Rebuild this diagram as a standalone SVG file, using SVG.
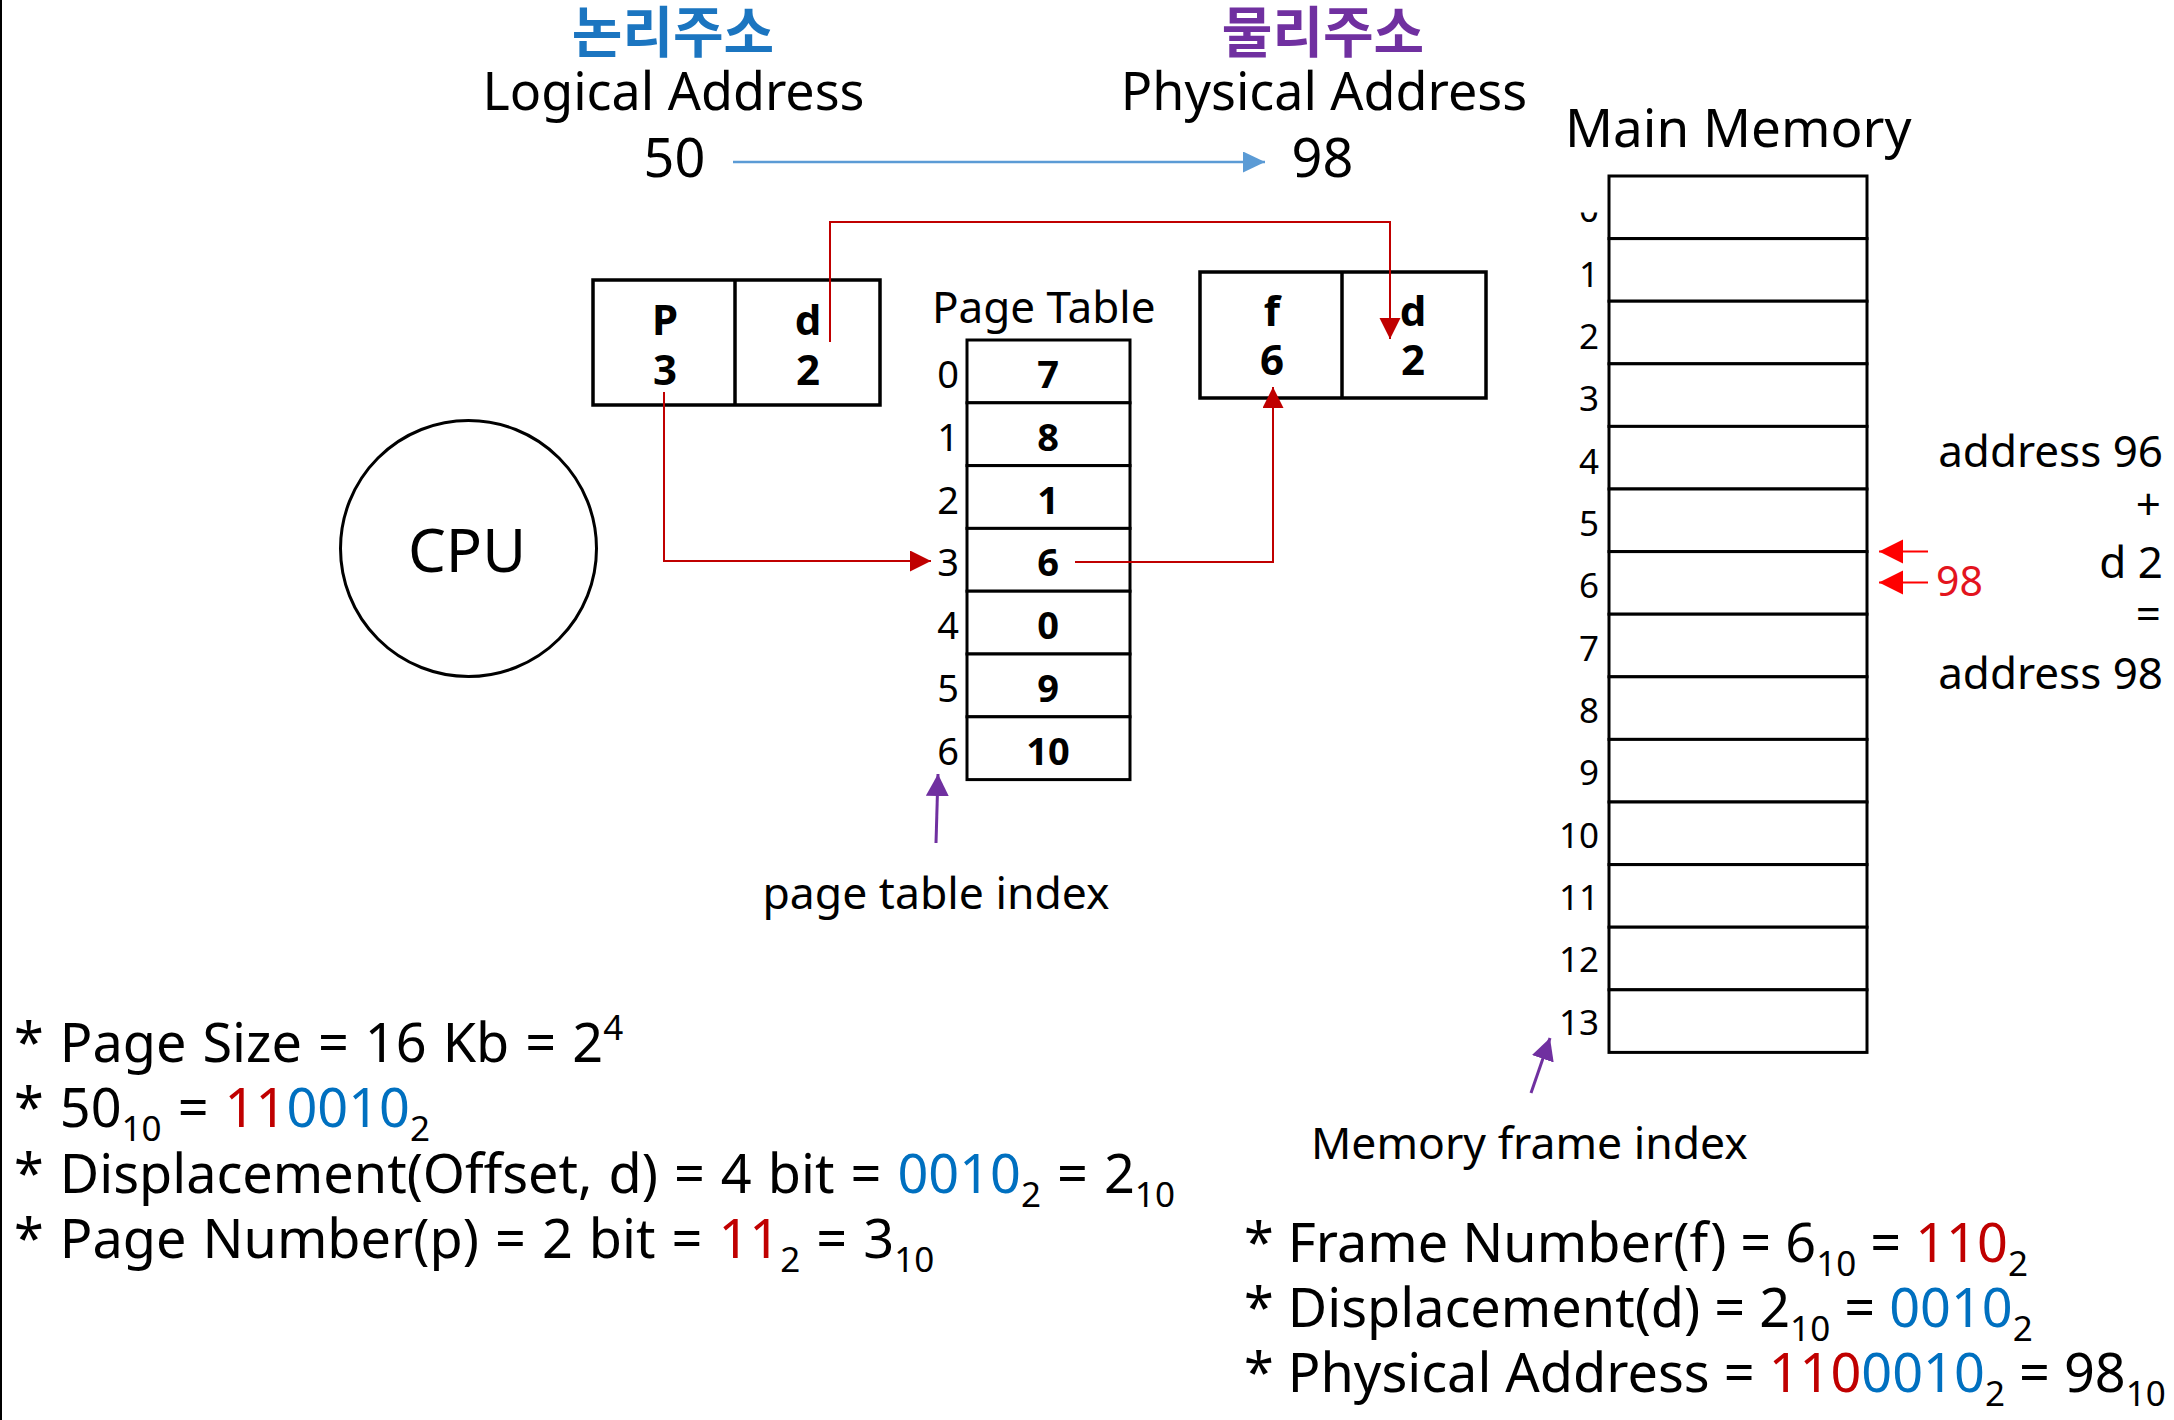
<svg xmlns="http://www.w3.org/2000/svg" width="2174" height="1420" viewBox="0 0 2174 1420">
<style>
text { font-family: "Noto Sans", "Open Sans", "Noto Sans CJK KR", sans-serif; fill: #000; }
.ko { font-family: "Noto Sans CJK KR", "Noto Sans", sans-serif; font-weight: 700; font-size: 55px; text-anchor: middle; }
.head { font-size: 52px; text-anchor: middle; }
.box { fill: #fff; stroke: #000; stroke-width: 3.5; }
.cell { fill: #fff; stroke: #000; stroke-width: 3; }
.bt { font-weight: 700; font-size: 42px; text-anchor: middle; }
.pv { font-weight: 700; font-size: 38px; text-anchor: middle; }
.pi { font-size: 38px; text-anchor: middle; }
.mi { font-size: 35px; text-anchor: end; }
.note { font-size: 54px; }
.lbl { font-size: 44.5px; }
.adr { font-size: 44px; text-anchor: end; }
.r { fill: #C00000; }
.bl { fill: #0070C0; }
.sub { font-size: 35px; }
.conn-red { fill: none; stroke: #C00000; stroke-width: 2; }
</style>
<defs>
<marker id="aRed" markerUnits="userSpaceOnUse" markerWidth="22" markerHeight="22" refX="21" refY="10.5" orient="auto"><path d="M0,0 L21,10.5 L0,21 z" fill="#C00000"/></marker>
<marker id="aBlue" markerUnits="userSpaceOnUse" markerWidth="23" markerHeight="22" refX="22" refY="10.5" orient="auto"><path d="M0,0 L22,10.5 L0,21 z" fill="#5B9BD5"/></marker>
<marker id="aPur" markerUnits="userSpaceOnUse" markerWidth="23" markerHeight="24" refX="22" refY="11.5" orient="auto"><path d="M0,0 L22,11.5 L0,23 z" fill="#7030A0"/></marker>
<marker id="aBr" markerUnits="userSpaceOnUse" markerWidth="25" markerHeight="25" refX="24" refY="12" orient="auto"><path d="M0,0 L24,12 L0,24 z" fill="#FF0000"/></marker>
<clipPath id="clip0"><rect x="1560" y="212.5" width="45" height="30"/></clipPath>
</defs>

<rect x="0" y="0" width="2174" height="1420" fill="#fff"/>
<line x1="1" y1="0" x2="1" y2="1420" stroke="#000" stroke-width="2"/>

<g id="titles">
<text class="ko" x="673" y="52" style="fill:#1B75C0">논리주소</text>
<text class="head" x="673.5" y="110">Logical Address</text>
<text class="head" x="674.5" y="177" style="font-size:54px">50</text>
<text class="ko" x="1323" y="52" style="fill:#7030A0">물리주소</text>
<text class="head" x="1324" y="110">Physical Address</text>
<text class="head" x="1322.5" y="177" style="font-size:54px">98</text>
</g>

<g id="cpu">
<circle cx="468.5" cy="548.5" r="128" fill="#fff" stroke="#000" stroke-width="3"/>
<text x="467" y="572" style="font-size:60px;text-anchor:middle">CPU</text>
</g>

<g id="logical-address-box">
<rect class="box" x="593" y="280" width="287" height="125"/>
<line x1="735" y1="280" x2="735" y2="405" stroke="#000" stroke-width="3.5"/>
<text class="bt" x="665" y="335">P</text>
<text class="bt" x="665" y="385">3</text>
<text class="bt" x="808" y="335">d</text>
<text class="bt" x="808" y="385">2</text>
</g>

<g id="page-table">
<text x="932" y="323" style="font-size:44px">Page Table</text>
<rect class="cell" x="967" y="340" width="163" height="62.8"/>
<rect class="cell" x="967" y="402.8" width="163" height="62.8"/>
<rect class="cell" x="967" y="465.6" width="163" height="62.8"/>
<rect class="cell" x="967" y="528.4" width="163" height="62.8"/>
<rect class="cell" x="967" y="591.2" width="163" height="62.8"/>
<rect class="cell" x="967" y="654" width="163" height="62.8"/>
<rect class="cell" x="967" y="716.8" width="163" height="62.8"/>
<text class="pi" x="948" y="388">0</text>
<text class="pi" x="948" y="450.8">1</text>
<text class="pi" x="948" y="513.6">2</text>
<text class="pi" x="948" y="576.4">3</text>
<text class="pi" x="948" y="639.2">4</text>
<text class="pi" x="948" y="702">5</text>
<text class="pi" x="948" y="764.8">6</text>
<text class="pv" x="1048" y="388">7</text>
<text class="pv" x="1048" y="450.8">8</text>
<text class="pv" x="1048" y="513.6">1</text>
<text class="pv" x="1048" y="576.4">6</text>
<text class="pv" x="1048" y="639.2">0</text>
<text class="pv" x="1048" y="702">9</text>
<text class="pv" x="1048" y="764.8">10</text>
<text class="lbl" x="936" y="909" style="text-anchor:middle">page table index</text>
</g>

<g id="physical-address-box">
<rect class="box" x="1200" y="272" width="286" height="126"/>
<line x1="1342" y1="272" x2="1342" y2="398" stroke="#000" stroke-width="3.5"/>
<text class="bt" x="1272" y="326">f</text>
<text class="bt" x="1272" y="375">6</text>
<text class="bt" x="1413" y="326">d</text>
<text class="bt" x="1413" y="375">2</text>
</g>

<g id="main-memory">
<text x="1565" y="147" style="font-size:53px">Main Memory</text>
<rect class="cell" x="1609" y="176" width="258" height="62.6"/>
<rect class="cell" x="1609" y="238.6" width="258" height="62.6"/>
<rect class="cell" x="1609" y="301.2" width="258" height="62.6"/>
<rect class="cell" x="1609" y="363.8" width="258" height="62.6"/>
<rect class="cell" x="1609" y="426.4" width="258" height="62.6"/>
<rect class="cell" x="1609" y="489" width="258" height="62.6"/>
<rect class="cell" x="1609" y="551.6" width="258" height="62.6"/>
<rect class="cell" x="1609" y="614.2" width="258" height="62.6"/>
<rect class="cell" x="1609" y="676.8" width="258" height="62.6"/>
<rect class="cell" x="1609" y="739.4" width="258" height="62.6"/>
<rect class="cell" x="1609" y="802" width="258" height="62.6"/>
<rect class="cell" x="1609" y="864.6" width="258" height="62.6"/>
<rect class="cell" x="1609" y="927.2" width="258" height="62.6"/>
<rect class="cell" x="1609" y="989.8" width="258" height="62.6"/>
<text class="mi" x="1599" y="222" clip-path="url(#clip0)">0</text>
<text class="mi" x="1599" y="286.7">1</text>
<text class="mi" x="1599" y="349">2</text>
<text class="mi" x="1599" y="411.4">3</text>
<text class="mi" x="1599" y="473.7">4</text>
<text class="mi" x="1599" y="536">5</text>
<text class="mi" x="1599" y="598.4">6</text>
<text class="mi" x="1599" y="660.7">7</text>
<text class="mi" x="1599" y="723">8</text>
<text class="mi" x="1599" y="785.3">9</text>
<text class="mi" x="1599" y="847.7">10</text>
<text class="mi" x="1599" y="910">11</text>
<text class="mi" x="1599" y="972.3">12</text>
<text class="mi" x="1599" y="1034.7">13</text>
<text class="lbl" x="1311" y="1159">Memory frame index</text>
</g>

<g id="address-calc">
<text x="1936" y="596" style="font-size:41px;fill:#E3141E">98</text>
<text class="adr" x="2163" y="467">address 96</text>
<text class="adr" x="2161" y="520">+</text>
<text class="adr" x="2163" y="578">d 2</text>
<text class="adr" x="2161" y="630">=</text>
<text class="adr" x="2163" y="689">address 98</text>
</g>

<g id="connectors">
<line x1="733" y1="162" x2="1265" y2="162" stroke="#5B9BD5" stroke-width="2.5" marker-end="url(#aBlue)"/>
<polyline class="conn-red" points="830,342 830,222 1390,222 1390,339" marker-end="url(#aRed)"/>
<polyline class="conn-red" points="664,392 664,561 931,561" marker-end="url(#aRed)"/>
<polyline class="conn-red" points="1075,562 1273,562 1273,387" marker-end="url(#aRed)"/>
<line x1="936" y1="843" x2="938" y2="774" stroke="#7030A0" stroke-width="3" marker-end="url(#aPur)"/>
<line x1="1531" y1="1093" x2="1550" y2="1038" stroke="#7030A0" stroke-width="3" marker-end="url(#aPur)"/>
<line x1="1928" y1="551.6" x2="1879" y2="551.6" stroke="#FF0000" stroke-width="2" marker-end="url(#aBr)"/>
<line x1="1928" y1="582.5" x2="1879" y2="582.5" stroke="#FF0000" stroke-width="2" marker-end="url(#aBr)"/>
</g>

<g id="notes-left" class="note" style="word-spacing:2px">
<text class="note" x="14" y="1062">* Page Size = 16 Kb = 2<tspan class="sub" dy="-22">4</tspan></text>
<text class="note" x="14" y="1127">* 50<tspan class="sub" dy="14">10</tspan><tspan dy="-14"> = </tspan><tspan class="r">11</tspan><tspan class="bl">0010</tspan><tspan class="sub" dy="14">2</tspan></text>
<text class="note" x="14" y="1193">* Displacement(Offset, d) = 4 bit = <tspan class="bl">0010</tspan><tspan class="sub" dy="14">2</tspan><tspan dy="-14"> = 2</tspan><tspan class="sub" dy="14">10</tspan></text>
<text class="note" x="14" y="1258">* Page Number(p) = 2 bit = <tspan class="r">11</tspan><tspan class="sub" dy="14">2</tspan><tspan dy="-14"> = 3</tspan><tspan class="sub" dy="14">10</tspan></text>
</g>

<g id="notes-right" class="note">
<text class="note" x="1244" y="1262">* Frame Number(f) = 6<tspan class="sub" dy="14">10</tspan><tspan dy="-14"> = </tspan><tspan class="r">110</tspan><tspan class="sub" dy="14">2</tspan></text>
<text class="note" x="1244" y="1327">* Displacement(d) = 2<tspan class="sub" dy="14">10</tspan><tspan dy="-14"> = </tspan><tspan class="bl">0010</tspan><tspan class="sub" dy="14">2</tspan></text>
<text class="note" x="1244" y="1392">* Physical Address = <tspan class="r">110</tspan><tspan class="bl">0010</tspan><tspan class="sub" dy="14">2</tspan><tspan dy="-14"> = 98</tspan><tspan class="sub" dy="14">10</tspan></text>
</g>
</svg>
